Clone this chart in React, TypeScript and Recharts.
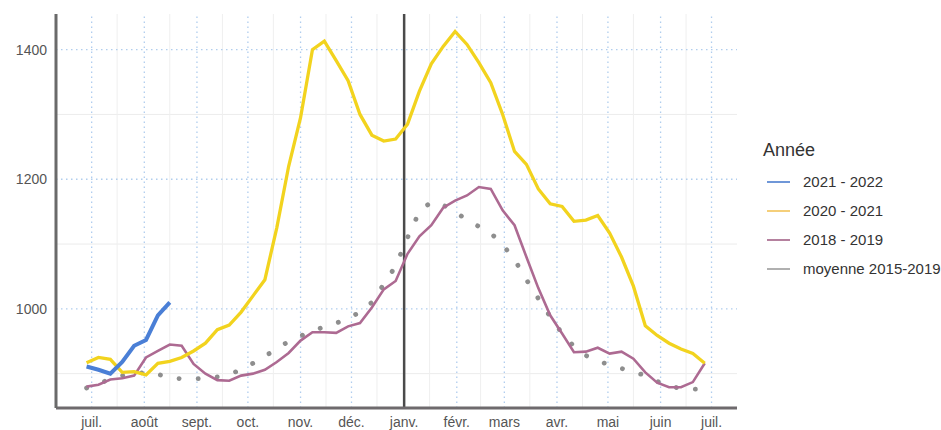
import { LineChart, Line, XAxis, YAxis, ReferenceLine, Legend } from "recharts";

// days counted from 1 July; one reading per week
const weekDays = [
  -3, 4, 11, 18, 25, 32, 39, 46, 53, 60, 67, 74, 81, 88, 95, 102, 109, 116, 123, 130,
  137, 144, 151, 158, 165, 172, 179, 186, 193, 200, 207, 214, 221, 228, 235, 242, 249,
  256, 263, 270, 277, 284, 291, 298, 305, 312, 319, 326, 333, 340, 347, 354, 361,
];

const season2122 = [911, 906, 900, 918, 943, 952, 990, 1010];

const season2021 = [
  917, 925, 922, 902, 903, 898, 916, 919, 925, 935, 947, 968, 975, 995, 1020, 1045, 1125,
  1220, 1295, 1400, 1413, 1383, 1352, 1300, 1268, 1259, 1262, 1285, 1336, 1378, 1405, 1428,
  1408, 1380, 1349, 1300, 1243, 1223, 1185, 1162, 1158, 1135, 1137, 1144, 1117, 1080, 1035,
  974, 959, 947, 938, 931, 916,
];

const season1819 = [
  880, 883, 891, 893, 897, 925, 935, 945, 943, 915, 900, 890, 889, 897, 900, 906, 918, 932,
  951, 964, 964, 963, 973, 978, 1002, 1030, 1043, 1085, 1112, 1129, 1156, 1167, 1175, 1188,
  1185, 1152, 1129, 1080, 1032, 990, 962, 933, 934, 940, 931, 934, 923, 902, 886, 879, 879,
  887, 916,
];

const mean1519 = [
  878, 884, 892, 897, 900, 902, 899, 894, 892, 892, 893, 895, 899, 906, 916, 927, 938, 950,
  958, 966, 972, 978, 985, 995, 1010, 1038, 1066, 1110, 1150, 1165, 1160, 1150, 1137, 1127,
  1117, 1099, 1076, 1045, 1016, 988, 962, 942, 928, 919, 914, 908, 903, 897, 888, 881, 877,
  876, 877,
];

const monthTicks = [0, 31, 62, 92, 123, 153, 184, 215, 243, 274, 304, 335, 365];
const monthLabels = [
  "juil.", "août", "sept.", "oct.", "nov.", "déc.", "janv.", "févr.", "mars", "avr.", "mai", "juin", "juil.",
];
const midMonthTicks = [15, 46, 77, 107, 138, 168, 199, 229, 258, 289, 319, 350];
const yTicks = [1000, 1200, 1400];
const yMinorTicks = [900, 1100, 1300];
const newYear = 184;

const seriesNames = ["2021 - 2022", "2020 - 2021", "2018 - 2019", "moyenne 2015-2019"];
const seriesColors = ["#4a7fd6", "#f2d31e", "#ad6a92", "#8e8e8e"];
const legendColors = ["#6f97d8", "#f5cf7a", "#b5819f", "#b0b0b0"];

const rows = weekDays.map((day, i) => ({
  day,
  s2122: season2122[i] ?? null,
  s2021: season2021[i] ?? null,
  s1819: season1819[i] ?? null,
  mean: mean1519[i] ?? null,
}));

const FONT = "'Liberation Sans', Arial, sans-serif";

function LegendBox() {
  return (
    <div style={{ fontFamily: FONT, color: "#333" }}>
      <div style={{ fontSize: 18, lineHeight: "20px", height: 20, marginLeft: 11 }}>Année</div>
      <div style={{ height: 7 }} />
      {seriesNames.map((name, i) => (
        <div key={name} style={{ display: "flex", alignItems: "center", height: 29 }}>
          <div style={{ width: 23, height: 2, background: legendColors[i], marginLeft: 15 }} />
          <span style={{ fontSize: 15, marginLeft: 13, color: "#333" }}>{name}</span>
        </div>
      ))}
    </div>
  );
}

export default function App() {
  return (
    <div style={{ position: "absolute", left: 0, top: 0, width: 941, height: 430, background: "#fff" }}>
      <LineChart
        width={941}
        height={430}
        data={rows}
        margin={{ top: 14, right: 204, bottom: 0, left: 0 }}
      >
        <XAxis
          dataKey="day"
          type="number"
          domain={[-21, 380]}
          ticks={monthTicks}
          tickFormatter={(v) => monthLabels[monthTicks.indexOf(v)] ?? ""}
          allowDataOverflow
          height={22}
          axisLine={{ stroke: "#6e6a6d", strokeWidth: 3 }}
          tickLine={false}
          tickSize={0}
          tickMargin={9}
          tick={{ fill: "#555", fontSize: 14, fontFamily: FONT }}
          interval={0}
        />
        <YAxis
          type="number"
          domain={[847, 1455]}
          ticks={yTicks}
          allowDataOverflow
          width={56}
          axisLine={{ stroke: "#6a6a6a", strokeWidth: 3 }}
          tickLine={false}
          tickSize={0}
          tickMargin={9}
          tick={{ fill: "#555", fontSize: 14, fontFamily: FONT }}
        />
        {yMinorTicks.map((v) => (
          <ReferenceLine key={`ym${v}`} y={v} stroke="#ececec" strokeWidth={1} />
        ))}
        {midMonthTicks.map((d) => (
          <ReferenceLine key={`xm${d}`} x={d} stroke="#efefef" strokeWidth={1} />
        ))}
        {yTicks.map((v) => (
          <ReferenceLine key={`y${v}`} y={v} stroke="#b0cdee" strokeWidth={1.3} strokeDasharray="1.5 3.5" />
        ))}
        {monthTicks.map((d) => (
          <ReferenceLine key={`x${d}`} x={d} stroke="#b0cdee" strokeWidth={1.3} strokeDasharray="1.5 3.5" />
        ))}
        <ReferenceLine x={newYear} stroke="#4a4a4a" strokeWidth={2.5} />
        <Line
          dataKey="mean"
          type="linear"
          stroke={seriesColors[3]}
          strokeWidth={4.8}
          strokeDasharray="0.1 19"
          strokeLinecap="round"
          dot={false}
          isAnimationActive={false}
        />
        <Line
          dataKey="s1819"
          type="linear"
          stroke={seriesColors[2]}
          strokeWidth={2.6}
          dot={false}
          isAnimationActive={false}
        />
        <Line
          dataKey="s2021"
          type="linear"
          stroke={seriesColors[1]}
          strokeWidth={3.3}
          dot={false}
          isAnimationActive={false}
        />
        <Line
          dataKey="s2122"
          type="linear"
          stroke={seriesColors[0]}
          strokeWidth={4}
          dot={false}
          isAnimationActive={false}
        />
        <Legend
          layout="vertical"
          align="center"
          verticalAlign="middle"
          content={() => <LegendBox />}
          wrapperStyle={{ left: 752, top: 140, width: 189, height: 150 }}
        />
      </LineChart>
    </div>
  );
}
